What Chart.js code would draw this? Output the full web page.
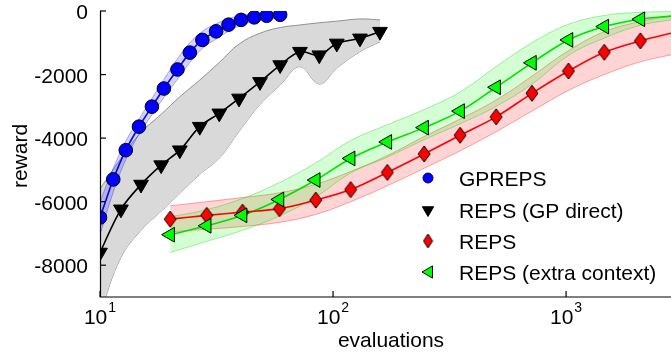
<!DOCTYPE html>
<html>
<head>
<meta charset="utf-8">
<script src="https://cdn.jsdelivr.net/npm/chart.js@4.4.0/dist/chart.umd.min.js"></script>
<style>
  html, body { margin: 0; padding: 0; background: #fff; }
  #wrap { width: 671px; height: 356px; }
</style>
</head>
<body>
<div id="wrap"><canvas id="chart" width="671" height="356"></canvas></div>
<script>
// Values (x = evaluations, y = reward)

// GPREPS (blue circles)
const gprepsX     = [10, 11.4, 12.9, 14.7, 16.7, 18.8, 21.5, 24.3, 27.5, 31.5, 35.6, 40.3, 45.9, 51.9, 59.3];
const gprepsMean  = [-6500, -5300, -4380, -3640, -3010, -2440, -1840, -1310, -910, -640, -430, -280, -200, -150, -120];
const gprepsUpper = [-6000, -4950, -4100, -3400, -2750, -2150, -1500, -1000, -640, -400, -240, -140, -90, -70, -60];
const gprepsLower = [-7050, -5700, -4680, -3880, -3270, -2720, -2150, -1620, -1180, -880, -640, -450, -320, -240, -190];

// REPS (GP direct) (black triangles)
const gpDirectX     = [10, 12.3, 15, 18.3, 22, 26.8, 32.5, 39.5, 48.6, 59.3, 72.1, 87.3, 103.8, 130.5, 159];
const gpDirectMean  = [-7600, -6240, -5460, -4850, -4380, -3640, -3220, -2750, -2230, -1700, -1280, -1390, -1020, -860, -650];
const gpDirectUpper = [-5600, -4640, -3820, -3250, -2700, -2170, -1620, -1040, -700, -520, -440, -370, -320, -250, -280];
const gpDirectLower = [-9500, -7750, -6900, -6300, -5740, -5140, -4630, -3790, -2940, -2330, -1750, -2300, -1800, -1280, -970];

// REPS (red diamonds) and REPS (extra context) (green triangles)
const repsX     = [20, 28.7, 40.9, 58.9, 84.3, 119, 171, 246, 351, 501, 714, 1024, 1459, 2084, 2820];
const repsMean  = [-6550, -6430, -6330, -6220, -5950, -5620, -5080, -4500, -3910, -3330, -2590, -1890, -1300, -940, -700];
const repsUpper = [-6130, -6000, -5870, -5720, -5450, -5050, -4550, -3950, -3400, -2800, -2050, -1250, -650, -330, -150];
const repsLower = [-6950, -6870, -6780, -6650, -6400, -6000, -5500, -4950, -4400, -3800, -3150, -2500, -2000, -1600, -1380];

const extraMean  = [-7040, -6760, -6430, -5930, -5320, -4640, -4120, -3670, -3150, -2400, -1630, -910, -490, -260, -160];
const extraUpper = [-6480, -6250, -5900, -5400, -4780, -4080, -3580, -3100, -2550, -1750, -1000, -420, -140, -40, -20];
const extraLower = [-7600, -7250, -6900, -6450, -5850, -5100, -4600, -4050, -3550, -3000, -2300, -1400, -850, -450, -280];

// markers are only on the first 14 points of the REPS curves
const repsMarkerCount = 14;

// axis ticks and legend
const xTickValues = [10, 100, 1000];
const xTickExponents = ['1', '2', '3'];
const yTickValues = [0, -2000, -4000, -6000, -8000];
const legendLabels = ['GPREPS', 'REPS (GP direct)', 'REPS', 'REPS (extra context)'];

const FONT = '"Liberation Sans", Arial, Helvetica, sans-serif';

function pts(xs, ys) {
    return xs.map((x, i) => ({ x: x, y: ys[i] }));
}

// tall diamond used as point style
function diamondImage(w, h, fill) {
    const c = document.createElement('canvas');
    c.width = w + 2;
    c.height = h + 2;
    const g = c.getContext('2d');
    g.beginPath();
    g.moveTo(c.width / 2, 1);
    g.lineTo(w + 1, c.height / 2);
    g.lineTo(c.width / 2, h + 1);
    g.lineTo(1, c.height / 2);
    g.closePath();
    g.fillStyle = fill;
    g.fill();
    g.strokeStyle = '#000';
    g.lineWidth = 1;
    g.stroke();
    return c;
}

function bandSets(xs, upper, lower, fill, edge, order) {
    return [
        { data: pts(xs, upper), borderColor: edge, borderWidth: 1, backgroundColor: fill,
          fill: '+1', pointRadius: 0, tension: 0.4, order: order, clip: 0 },
        { data: pts(xs, lower), borderColor: edge, borderWidth: 1,
          fill: false, pointRadius: 0, tension: 0.4, order: order, clip: 0 }
    ];
}

function meanLine(xs, ys, color, order) {
    return { data: pts(xs, ys), borderColor: color, borderWidth: 1.6, fill: false,
             pointRadius: 0, tension: 0.35, order: order, clip: 0 };
}

function markers(xs, ys, style, radius, rotation, color, order) {
    return { data: pts(xs, ys), showLine: false, pointStyle: style, pointRadius: radius,
             pointRotation: rotation, pointBackgroundColor: color, pointBorderColor: '#000',
             pointBorderWidth: 1, order: order, clip: 0 };
}

const redDiamond = diamondImage(12, 16, '#ff0000');

const datasets = [].concat(
    bandSets(gpDirectX, gpDirectUpper, gpDirectLower, '#d9d9d9', '#909090', 10),
    bandSets(gprepsX, gprepsUpper, gprepsLower, 'rgba(0,0,255,0.17)', 'rgba(0,0,255,0.3)', 9),
    bandSets(repsX, repsUpper, repsLower, 'rgba(255,0,0,0.17)', 'rgba(255,0,0,0.35)', 8),
    bandSets(repsX, extraUpper, extraLower, 'rgba(0,255,0,0.17)', 'rgba(0,200,0,0.35)', 7),
    [
        meanLine(gpDirectX, gpDirectMean, '#000000', 5),
        meanLine(gprepsX, gprepsMean, '#0000ff', 5),
        meanLine(repsX, repsMean, '#ff0000', 5),
        meanLine(repsX, extraMean, '#00e000', 5),
        markers(gprepsX, gprepsMean, 'circle', 6.8, 0, '#0000ff', 3),
        markers(gpDirectX, gpDirectMean, 'triangle', 8.5, 180, '#000000', 2),
        markers(repsX.slice(0, repsMarkerCount), repsMean.slice(0, repsMarkerCount), redDiamond, 7, 0, '#ff0000', 1),
        markers(repsX.slice(0, repsMarkerCount), extraMean.slice(0, repsMarkerCount), 'triangle', 8.5, 270, '#00ff00', 0)
    ]
);

function drawTri(ctx, x, y, r, rotDeg) {
    let rad = rotDeg * Math.PI / 180;
    ctx.beginPath();
    for (let k = 0; k < 3; k++) {
        const px = x + Math.sin(rad) * r, py = y - Math.cos(rad) * r;
        if (k === 0) ctx.moveTo(px, py); else ctx.lineTo(px, py);
        rad += 2 * Math.PI / 3;
    }
    ctx.closePath();
    ctx.fill();
    ctx.stroke();
}

// axes, ticks, labels and legend drawn by hand to match the figure
const decorPlugin = {
    id: 'decor',
    afterDraw(chart) {
        const ctx = chart.ctx;
        const xs = chart.scales.x, ys = chart.scales.y, a = chart.chartArea;
        ctx.save();
        ctx.strokeStyle = '#000';
        ctx.fillStyle = '#000';
        ctx.lineWidth = 1.2;

        // axis lines
        ctx.beginPath();
        ctx.moveTo(a.left + 0.5, a.top);
        ctx.lineTo(a.left + 0.5, a.bottom);
        ctx.lineTo(a.right, a.bottom);
        ctx.stroke();

        // y ticks
        ctx.font = '21px ' + FONT;
        ctx.textAlign = 'right';
        ctx.textBaseline = 'alphabetic';
        yTickValues.forEach(v => {
            const py = ys.getPixelForValue(v);
            ctx.beginPath();
            ctx.moveTo(a.left, py);
            ctx.lineTo(a.left + 6, py);
            ctx.stroke();
            ctx.fillText(String(v), 88, py + 8);
        });

        // x ticks with superscript exponent
        xTickValues.forEach((v, i) => {
            const px = xs.getPixelForValue(v);
            ctx.beginPath();
            ctx.moveTo(px, a.bottom);
            ctx.lineTo(px, a.bottom - 6);
            ctx.stroke();
            ctx.font = '21px ' + FONT;
            const baseW = ctx.measureText('10').width;
            ctx.font = '14px ' + FONT;
            const expW = ctx.measureText(xTickExponents[i]).width;
            const start = px - (baseW + 1 + expW) / 2;
            ctx.textAlign = 'left';
            ctx.font = '21px ' + FONT;
            ctx.fillText('10', start, 323.5);
            ctx.font = '14px ' + FONT;
            ctx.fillText(xTickExponents[i], start + baseW + 1, 312);
        });

        // axis titles
        ctx.font = '21px ' + FONT;
        ctx.textAlign = 'center';
        ctx.fillText('evaluations', 391, 347);
        ctx.save();
        ctx.translate(26.5, 156);
        ctx.rotate(-Math.PI / 2);
        ctx.fillText('reward', 0, 0);
        ctx.restore();

        // legend
        const rows = [178, 210, 241, 272];
        const mx = 428, tx = 459;
        ctx.lineWidth = 1;
        ctx.textAlign = 'left';
        legendLabels.forEach((label, i) => {
            const y = rows[i];
            if (i === 0) {
                ctx.fillStyle = '#0000ff';
                ctx.strokeStyle = '#000060';
                ctx.beginPath();
                ctx.arc(mx, y, 5, 0, Math.PI * 2);
                ctx.fill();
                ctx.stroke();
            } else if (i === 1) {
                ctx.fillStyle = '#000';
                ctx.strokeStyle = '#000';
                drawTri(ctx, mx, y, 6.5, 180);
            } else if (i === 2) {
                const img = diamondImage(9, 14, '#ff0000');
                ctx.drawImage(img, mx - img.width / 2, y - img.height / 2);
            } else {
                ctx.fillStyle = '#00ff00';
                ctx.strokeStyle = '#000';
                drawTri(ctx, mx + 1, y, 7, 270);
            }
            ctx.fillStyle = '#000';
            ctx.fillText(label, tx, y + 7.5);
        });
        ctx.restore();
    }
};

new Chart(document.getElementById('chart'), {
    type: 'line',
    data: { datasets: datasets },
    options: {
        responsive: false,
        animation: false,
        events: [],
        layout: { autoPadding: false, padding: { top: 11, right: 0, left: 0, bottom: 0 } },
        plugins: {
            legend: { display: false },
            tooltip: { enabled: false }
        },
        scales: {
            x: {
                type: 'logarithmic',
                min: 10,
                max: 2820,
                grid: { display: false },
                border: { display: false },
                ticks: { display: false },
                afterFit: function(scale) { scale.height = 59; }
            },
            y: {
                type: 'linear',
                min: -9000,
                max: 0,
                grid: { display: false },
                border: { display: false },
                ticks: { display: false },
                afterFit: function(scale) { scale.width = 100; }
            }
        }
    },
    plugins: [decorPlugin]
});
</script>
</body>
</html>
